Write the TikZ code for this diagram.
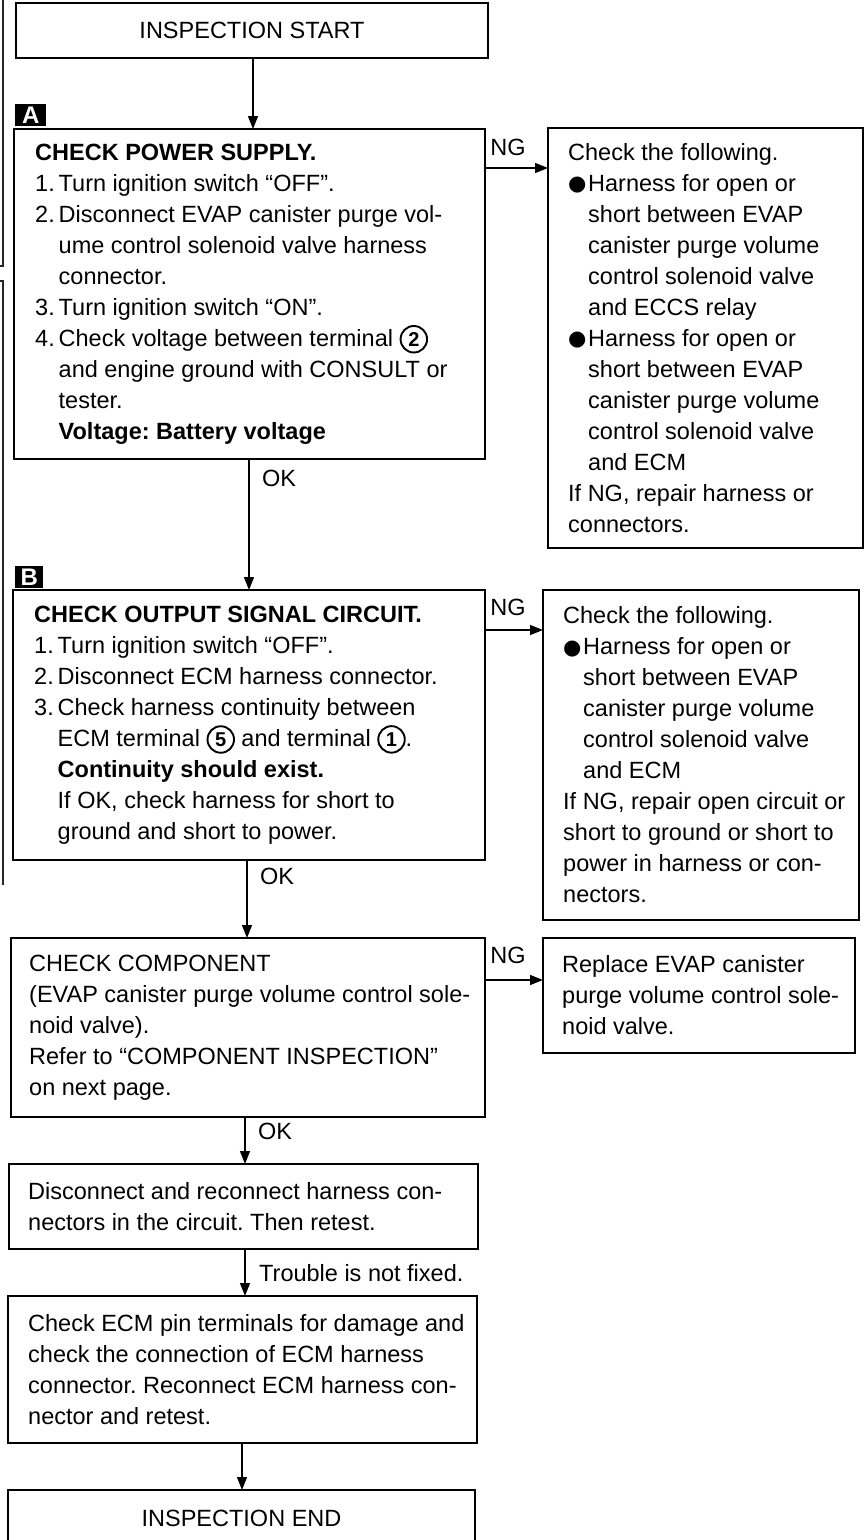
\documentclass[tikz,border=0pt]{standalone}
\usepackage{fontspec}
\setmainfont{Liberation Sans}
\newfontfamily\djv{DejaVu Sans}
\usetikzlibrary{arrows.meta}
\frenchspacing
\tikzset{
  frame/.style={draw, line width=1.6pt, anchor=north west, inner sep=0pt, outer sep=0pt},
  txt/.style={anchor=west, align=left, inner sep=0pt, font=\frenchspacing\fontsize{23.5}{31}\selectfont},
  ctxt/.style={anchor=center, align=center, inner sep=0pt, font=\fontsize{23.5}{31}\selectfont},
  lbl/.style={inner sep=0pt, font=\fontsize{23.5}{28}\selectfont},
  arr/.style={line width=1.3pt, -{Triangle[length=13pt,width=10pt]}},
  marker/.style={fill=black, text=white, anchor=north west, inner sep=0pt, font=\bfseries\fontsize{24}{24}\selectfont},
  edgeline/.style={line width=1.2pt, draw=black!85}
}
\newcommand\cnum[1]{\tikz[baseline=(cn.base)]\node[draw,circle,line width=1.9pt,minimum size=26.5pt,inner sep=0pt,anchor=center,font=\bfseries\fontsize{20}{20}\selectfont](cn){#1};}
\newcommand\bul{\makebox[20pt][l]{\raisebox{0.5pt}{\djv\fontsize{21}{21}\selectfont ●}}}
\newcommand\ind{\hspace*{20pt}}
\newcommand\itm[1]{\makebox[23.5pt][l]{#1}}
\newcommand\hng{\hspace*{23.5pt}}
\begin{document}
\begin{tikzpicture}[x=1pt,y=-1pt]
\useasboundingbox (0,0) rectangle (865,1540);
\clip (0,0) rectangle (865,1540);
% edge marks of the scanned page
\draw[edgeline] (3,0) -- (3,266) -- (0,266);
\draw[edgeline] (0,281) -- (3,281) -- (3,885);

% START
\node[frame, minimum width=472pt, minimum height=55pt] (fS) at (16,3) {};
\node[ctxt] (tS) at (fS.center) {INSPECTION START};

% A
\node[marker, minimum width=31pt, minimum height=22pt] (mA) at (15,104) {A};
\node[frame, minimum width=471pt, minimum height=330pt] (fA) at (14,129) {};
\node[txt] (tA) at ([xshift=21pt]fA.west) {\textbf{CHECK POWER SUPPLY.}\\
\itm{1.}Turn ignition switch “OFF”.\\
\itm{2.}Disconnect EVAP canister purge vol-\\
\hng ume control solenoid valve harness\\
\hng connector.\\
\itm{3.}Turn ignition switch “ON”.\\
\itm{4.}Check voltage between terminal \cnum{2}\\
\hng and engine ground with CONSULT or\\
\hng tester.\\
\hng\textbf{Voltage: Battery voltage}};

\node[frame, minimum width=315pt, minimum height=420pt] (fRA) at (548,128) {};
\node[txt] (tRA) at ([xshift=20pt]fRA.west) {Check the following.\\
\bul Harness for open or\\
\ind short between EVAP\\
\ind canister purge volume\\
\ind control solenoid valve\\
\ind and ECCS relay\\
\bul Harness for open or\\
\ind short between EVAP\\
\ind canister purge volume\\
\ind control solenoid valve\\
\ind and ECM\\
If NG, repair harness or\\
connectors.};

% B
\node[marker, minimum width=28pt, minimum height=22pt] (mB) at (15,566) {B};
\node[frame, minimum width=472pt, minimum height=270pt] (fB) at (13,590) {};
\node[txt] (tB) at ([xshift=21pt]fB.west) {\textbf{CHECK OUTPUT SIGNAL CIRCUIT.}\\
\itm{1.}Turn ignition switch “OFF”.\\
\itm{2.}Disconnect ECM harness connector.\\
\itm{3.}Check harness continuity between\\
\hng ECM terminal \cnum{5} and terminal \cnum{1}.\\
\hng\textbf{Continuity should exist.}\\
\hng If OK, check harness for short to\\
\hng ground and short to power.};

\node[frame, minimum width=316pt, minimum height=330pt] (fRB) at (543,590) {};
\node[txt] (tRB) at ([xshift=20pt]fRB.west) {Check the following.\\
\bul Harness for open or\\
\ind short between EVAP\\
\ind canister purge volume\\
\ind control solenoid valve\\
\ind and ECM\\
If NG, repair open circuit or\\
short to ground or short to\\
power in harness or con-\\
nectors.};

% C
\node[frame, minimum width=474pt, minimum height=179pt] (fC) at (11,938) {};
\node[txt] (tC) at ([xshift=18pt]fC.west) {CHECK COMPONENT\\
(EVAP canister purge volume control sole-\\
noid valve).\\
Refer to “COMPONENT INSPECTION”\\
on next page.};

\node[frame, minimum width=312pt, minimum height=115pt] (fRC) at (543,938) {};
\node[txt] (tRC) at ([xshift=19pt]fRC.west) {Replace EVAP canister\\
purge volume control sole-\\
noid valve.};

% D
\node[frame, minimum width=469pt, minimum height=85pt] (fD) at (9,1164) {};
\node[txt] (tD) at ([xshift=19pt]fD.west) {Disconnect and reconnect harness con-\\
nectors in the circuit. Then retest.};

% E
\node[frame, minimum width=469pt, minimum height=147pt] (fE) at (8,1296) {};
\node[txt] (tE) at ([xshift=20pt]fE.west) {Check ECM pin terminals for damage and\\
check the connection of ECM harness\\
connector. Reconnect ECM harness con-\\
nector and retest.};

% END
\node[frame, minimum width=467pt, minimum height=56pt] (fN) at (8,1490) {};
\node[ctxt] (tN) at (fN.center) {INSPECTION END};

% vertical connectors
\coordinate (v1) at (253,0);
\coordinate (v2) at (249,0);
\coordinate (v3) at (247,0);
\coordinate (v4) at (245,0);
\coordinate (v5) at (245,0);
\coordinate (v6) at (242,0);
\draw[arr] (fS.south -| v1) -- (fA.north -| v1);
\draw[arr] (fA.south -| v2) -- (fB.north -| v2);
\draw[arr] (fB.south -| v3) -- (fC.north -| v3);
\draw[arr] (fC.south -| v4) -- (fD.north -| v4);
\draw[arr] (fD.south -| v5) -- (fE.north -| v5);
\draw[arr] (fE.south -| v6) -- (fN.north -| v6);

% horizontal connectors
\coordinate (h1) at (0,168);
\coordinate (h2) at (0,630);
\coordinate (h3) at (0,980);
\draw[arr] (fA.east |- h1) -- (fRA.west |- h1);
\draw[arr] (fB.east |- h2) -- (fRB.west |- h2);
\draw[arr] (fC.east |- h3) -- (fRC.west |- h3);

% labels
\node[lbl] (ng1) at (508,147) {NG};
\node[lbl] (ng2) at (508,607) {NG};
\node[lbl] (ng3) at (508,955) {NG};
\node[lbl, anchor=west] (ok1) at (262,478) {OK};
\node[lbl, anchor=west] (ok2) at (260,876) {OK};
\node[lbl, anchor=west] (ok3) at (258,1131) {OK};
\node[lbl, anchor=west] (tr) at (259,1273) {Trouble is not fixed.};
\end{tikzpicture}
\end{document}
